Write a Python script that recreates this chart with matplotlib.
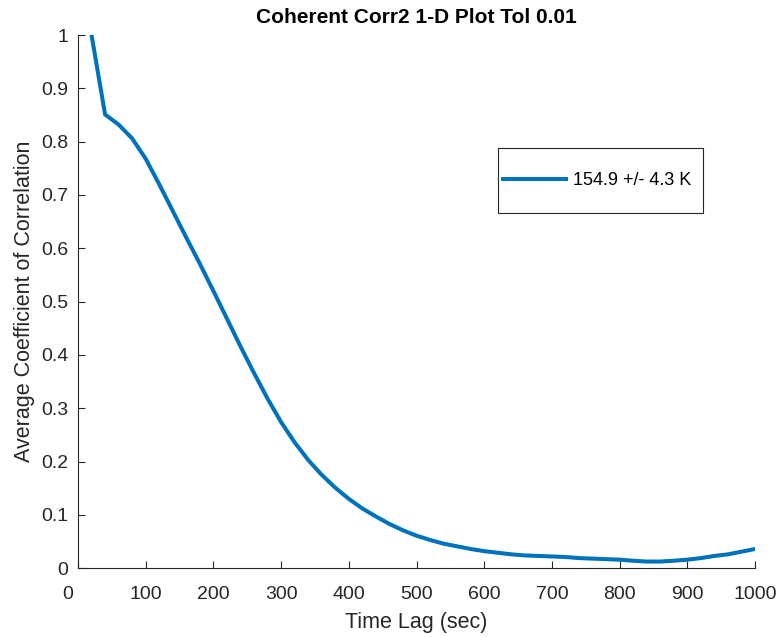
import matplotlib
matplotlib.use("Agg")
import matplotlib.pyplot as plt
from matplotlib.transforms import ScaledTranslation
from matplotlib.patches import Rectangle
import numpy as np

# Datos
time_lag = list(range(20, 1001, 20))
avg_corr = [1.000, 0.851, 0.832, 0.806, 0.768, 0.720, 0.670, 0.620, 0.571, 0.520,
            0.468, 0.416, 0.366, 0.318, 0.274, 0.236, 0.203, 0.175, 0.151, 0.130,
            0.112, 0.097, 0.083, 0.071, 0.061, 0.053, 0.046, 0.041, 0.036, 0.032,
            0.029, 0.026, 0.024, 0.023, 0.022, 0.021, 0.019, 0.018, 0.017, 0.016,
            0.014, 0.0125, 0.0125, 0.014, 0.016, 0.019, 0.023, 0.026, 0.031, 0.036]
serie_label = "154.9 +/- 4.3 K"
x_ticks = list(range(0, 1001, 100))
y_ticks = [0, 0.1, 0.2, 0.3, 0.4, 0.5, 0.6, 0.7, 0.8, 0.9, 1]
y_tick_labels = ["0", "0.1", "0.2", "0.3", "0.4", "0.5", "0.6", "0.7", "0.8", "0.9", "1"]

plt.rcParams['font.family'] = ['Liberation Sans', 'DejaVu Sans']
gris = "#262626"

fig = plt.figure(figsize=(7.8, 6.37), dpi=100)
ax = fig.add_axes([0.1, 0.108, 0.868, 0.837])

ax.plot(time_lag, avg_corr, color="#0072BD", linewidth=2.9, label=serie_label,
        solid_joinstyle="round")

ax.set_xlim(0, 1000)
ax.set_ylim(0, 1)
ax.set_xticks(x_ticks)
ax.set_yticks(y_ticks)
ax.set_yticklabels(y_tick_labels)

ax.spines["top"].set_visible(False)
ax.spines["right"].set_visible(False)
for s in ["left", "bottom"]:
    ax.spines[s].set_color(gris)
    ax.spines[s].set_linewidth(0.8)
ax.tick_params(direction="in", length=5, width=0.8, colors=gris, labelsize=14)
ax.tick_params(axis="x", pad=13)
ax.tick_params(axis="y", pad=7)

# desplazar la etiqueta "0" del eje x como en la original
lbl0 = ax.get_xticklabels()[0]
lbl0.set_transform(lbl0.get_transform() + ScaledTranslation(-0.1, 0, fig.dpi_scale_trans))

ax.set_xlabel("Time Lag (sec)", fontsize=15.5, color=gris, labelpad=6)
ax.set_ylabel("Average Coefficient of Correlation", fontsize=15.5, color=gris, labelpad=4)
ax.set_title("Coherent Corr2 1-D Plot Tol 0.01", fontsize=15, fontweight="bold", pad=9)

# leyenda sin marco + caja aparte (la de MATLAB no es simetrica)
leg = ax.legend(loc="center left", bbox_to_anchor=(0.6278, 0.7275), fontsize=13,
                frameon=False, handlelength=3.5, handletextpad=0.4,
                borderpad=0, borderaxespad=0)
ax.add_patch(Rectangle((0.6204, 0.6667), 0.3028, 0.1217, transform=ax.transAxes,
                       fill=False, edgecolor=gris, linewidth=0.8, clip_on=False))

plt.savefig("out.png", dpi=100)
